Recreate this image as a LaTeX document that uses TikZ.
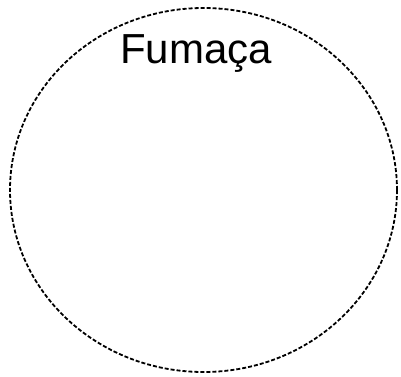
\documentclass[tikz,border=0pt]{standalone}
\usepackage{fontspec}
\setmainfont{Liberation Sans}
\begin{document}
\begin{tikzpicture}[x=1pt,y=1pt]
				\useasboundingbox (0,0) rectangle (401,376);
				\coordinate (O) at (203.5,186);
				\draw[line width=1.8pt,dash pattern=on 4pt off 2pt] (O) ellipse [x radius=193.5,y radius=182];
				\node[anchor=base,inner sep=0pt,font=\fontsize{42}{48}\selectfont] (fumaca) at (196,313) {Fumaça};
			\end{tikzpicture}
\end{document}
